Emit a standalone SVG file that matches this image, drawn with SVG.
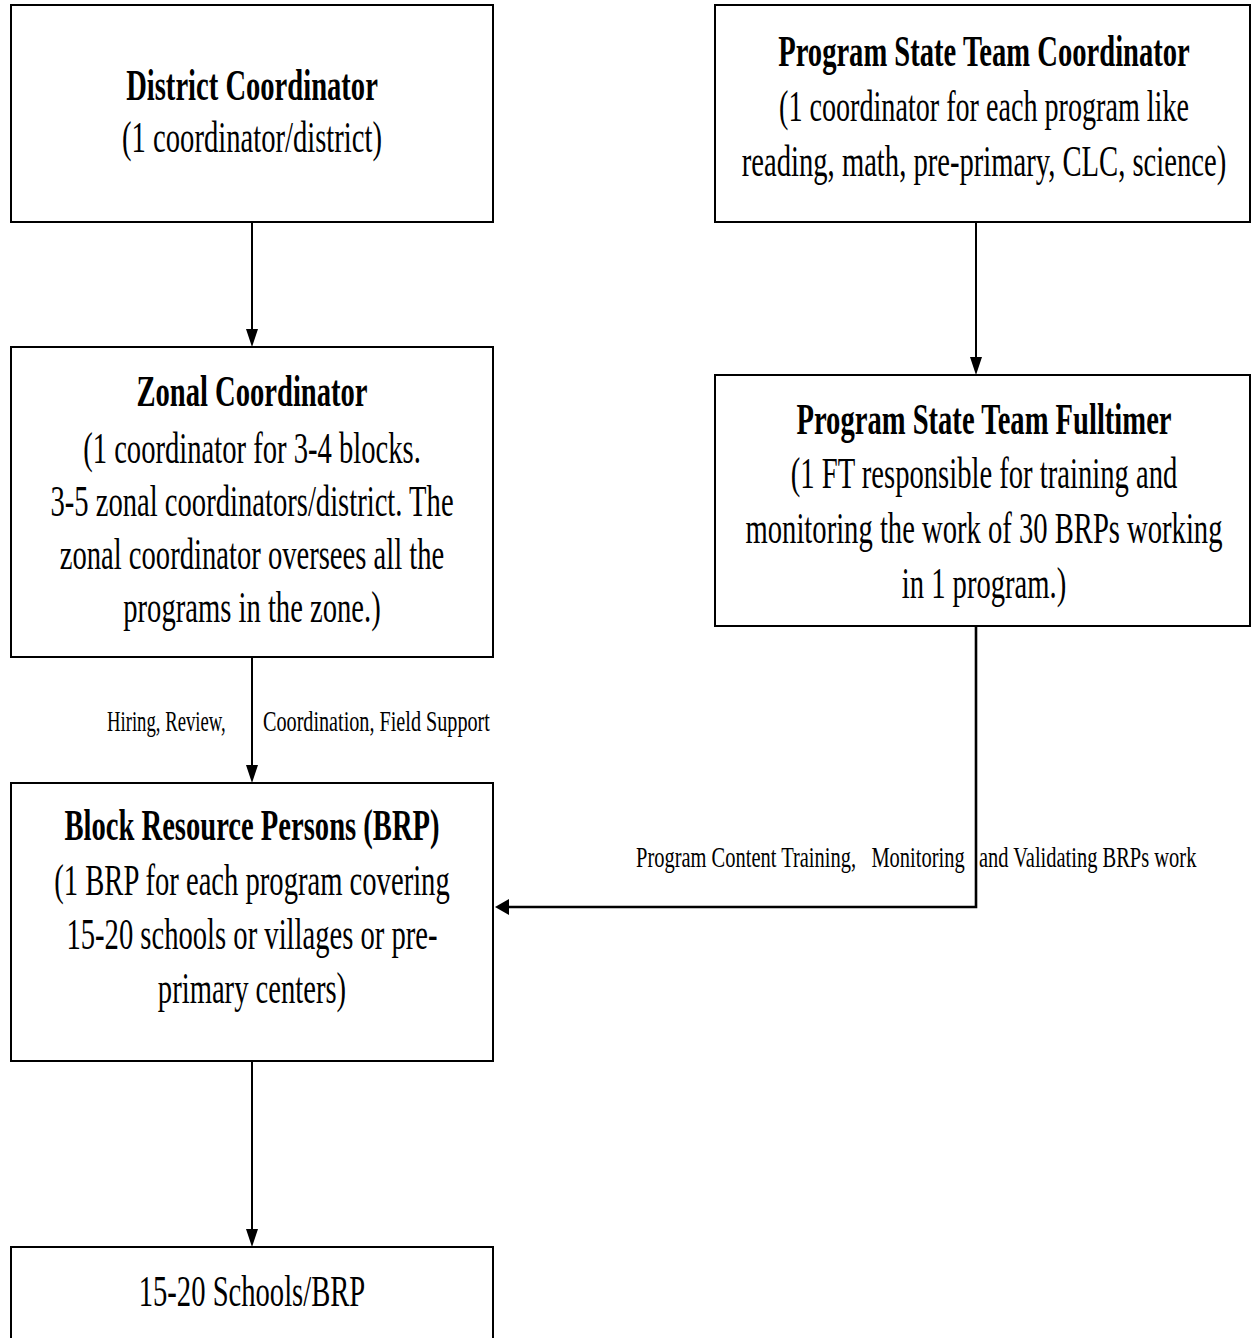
<svg xmlns="http://www.w3.org/2000/svg" width="1251" height="1338" viewBox="0 0 1251 1338">
  <style>
    .box { fill: #ffffff; stroke: #000000; stroke-width: 2; }
    .t { font-family: "Liberation Serif", "Times New Roman", serif; fill: #000000; text-anchor: middle; }
    .title { font-size: 44px; font-weight: bold; }
    .body { font-size: 45px; }
    .lbl { font-family: "Liberation Serif", "Times New Roman", serif; font-size: 29px; fill: #000000; }
    .wire { fill: none; stroke: #000000; stroke-width: 2; }
    .wire-h { fill: none; stroke: #000000; stroke-width: 2.6; }
  </style>
  <defs>
    <marker id="arrowDown" markerUnits="userSpaceOnUse" viewBox="0 0 18 12" markerWidth="18" markerHeight="12" refX="10" refY="6" orient="auto">
      <path d="M0,0 L18,6 L0,12 z" fill="#000000"/>
    </marker>
    <marker id="arrowLeft" markerUnits="userSpaceOnUse" viewBox="0 0 14 16" markerWidth="14" markerHeight="16" refX="6" refY="8" orient="auto">
      <path d="M0,0 L14,8 L0,16 z" fill="#000000"/>
    </marker>
  </defs>
  <rect width="1251" height="1338" fill="#ffffff"/>

  <!-- connectors (text is set in a condensed serif: x scaled, y kept) -->
  <g id="connectors">
    <path class="wire" d="M252,222 V339" marker-end="url(#arrowDown)"/>
    <path class="wire" d="M976,222 V367" marker-end="url(#arrowDown)"/>
    <path class="wire" d="M252,657 V775" marker-end="url(#arrowDown)"/>
    <path class="wire-h" d="M976,626 V907 H503" marker-end="url(#arrowLeft)"/>
    <path class="wire" d="M252,1061 V1239" marker-end="url(#arrowDown)"/>
    <text class="lbl" transform="translate(107,731) scale(0.645,1)">Hiring, Review,</text>
    <text class="lbl" transform="translate(263,731) scale(0.696,1)">Coordination, Field Support</text>
    <text class="lbl" transform="translate(636,867) scale(0.706,1)" xml:space="preserve">Program Content Training,   Monitoring</text>
    <text class="lbl" transform="translate(979,867) scale(0.706,1)">and Validating BRPs work</text>
  </g>

  <!-- nodes -->
  <g id="district-coordinator">
    <rect class="box" x="11" y="5" width="482" height="217"/>
    <text class="t title" transform="translate(252,100) scale(0.65,1)">District Coordinator</text>
    <text class="t body" transform="translate(252,152) scale(0.636,1)">(1 coordinator/district)</text>
  </g>

  <g id="program-state-team-coordinator">
    <rect class="box" x="715" y="5" width="535" height="217"/>
    <text class="t title" transform="translate(984,66) scale(0.65,1)">Program State Team Coordinator</text>
    <text class="t body" transform="translate(984,121) scale(0.625,1)">(1 coordinator for each program like</text>
    <text class="t body" transform="translate(984,176) scale(0.636,1)">reading, math, pre-primary, CLC, science)</text>
  </g>

  <g id="zonal-coordinator">
    <rect class="box" x="11" y="347" width="482" height="310"/>
    <text class="t title" transform="translate(252,406) scale(0.65,1)">Zonal Coordinator</text>
    <text class="t body" transform="translate(252,463) scale(0.636,1)">(1 coordinator for 3-4 blocks.</text>
    <text class="t body" transform="translate(252,516) scale(0.636,1)">3-5 zonal coordinators/district. The</text>
    <text class="t body" transform="translate(252,569) scale(0.636,1)">zonal coordinator oversees all the</text>
    <text class="t body" transform="translate(252,622) scale(0.636,1)">programs in the zone.)</text>
  </g>

  <g id="program-state-team-fulltimer">
    <rect class="box" x="715" y="375" width="535" height="251"/>
    <text class="t title" transform="translate(984,434) scale(0.65,1)">Program State Team Fulltimer</text>
    <text class="t body" transform="translate(984,488) scale(0.636,1)">(1 FT responsible for training and</text>
    <text class="t body" transform="translate(984,543) scale(0.636,1)">monitoring the work of 30 BRPs working</text>
    <text class="t body" transform="translate(984,598) scale(0.636,1)">in 1 program.)</text>
  </g>

  <g id="block-resource-persons">
    <rect class="box" x="11" y="783" width="482" height="278"/>
    <text class="t title" transform="translate(252,840) scale(0.65,1)">Block Resource Persons (BRP)</text>
    <text class="t body" transform="translate(252,895) scale(0.636,1)">(1 BRP for each program covering</text>
    <text class="t body" transform="translate(252,949) scale(0.636,1)">15-20 schools or villages or pre-</text>
    <text class="t body" transform="translate(252,1003) scale(0.636,1)">primary centers)</text>
  </g>

  <g id="schools">
    <rect class="box" x="11" y="1247" width="482" height="100"/>
    <text class="t body" transform="translate(252,1306) scale(0.636,1)">15-20 Schools/BRP</text>
  </g>
</svg>
